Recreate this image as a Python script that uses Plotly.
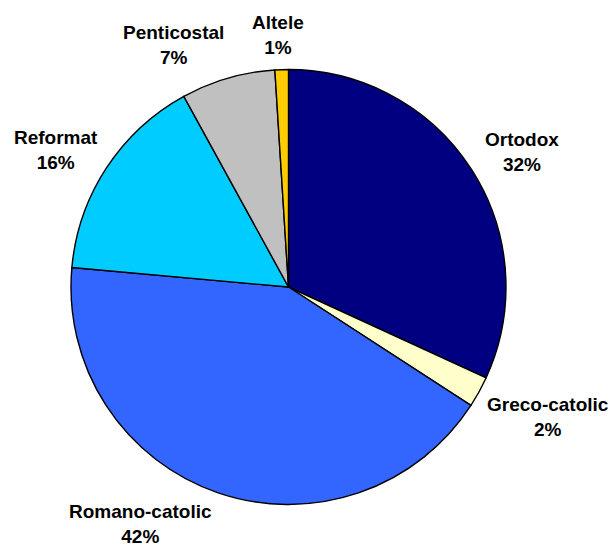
import plotly.graph_objects as go

categories = ["Ortodox", "Greco-catolic", "Romano-catolic", "Reformat", "Penticostal", "Altele"]
values = [31.9, 2.3, 42.3, 15.6, 7.0, 1.0]
colors = ["#000080", "#FFFFCC", "#3366FF", "#00CCFF", "#C0C0C0", "#FFCC00"]

# label placement (paper pixel positions of label centres), layout only
W, H = 613, 547
label_px = [(522, 152), (548, 417), (140, 524), (56, 150), (173, 45), (278, 35)]

total = sum(values)
pcts = [round(v / total * 100) for v in values]

fig = go.Figure(go.Pie(
    labels=categories,
    values=values,
    sort=False,
    direction="clockwise",
    rotation=0,
    marker=dict(colors=colors, line=dict(color="black", width=1.4)),
    textinfo="none",
    hoverinfo="label+percent",
    domain=dict(x=[71 / W, 506 / W], y=[1 - 504.5 / H, 1 - 69.5 / H]),
    showlegend=False,
))

for cat, p, (px, py) in zip(categories, pcts, label_px):
    fig.add_annotation(
        x=px / W, y=1 - py / H, xref="paper", yref="paper",
        text=f"<b>{cat}<br>{p}%</b>",
        showarrow=False, xanchor="center", yanchor="middle",
        font=dict(family="Liberation Sans, Arial", size=19, color="black"),
        align="center",
    )

fig.update_layout(
    width=W, height=H,
    margin=dict(l=0, r=0, t=0, b=0),
    paper_bgcolor="white",
    plot_bgcolor="white",
)

fig.write_html(
    "out.html",
    config={"displayModeBar": False},
    post_script="document.body.style.margin='0';document.body.style.padding='0';",
)
